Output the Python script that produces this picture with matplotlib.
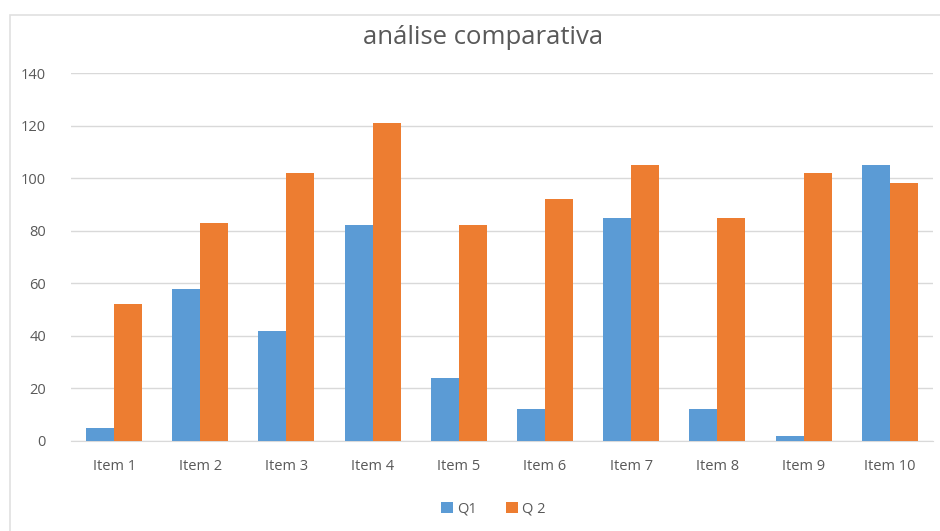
import numpy as np
import matplotlib.pyplot as plt
from matplotlib.patches import Rectangle

items = ['Item 1', 'Item 2', 'Item 3', 'Item 4', 'Item 5',
         'Item 6', 'Item 7', 'Item 8', 'Item 9', 'Item 10']
q1 = [5, 58, 42, 82, 24, 12, 85, 12, 2, 105]
q2 = [52, 83, 102, 121, 82, 92, 105, 85, 102, 98]

plt.rcParams['font.family'] = ['Open Sans', 'DejaVu Sans']
text_col = '#595959'

fig = plt.figure(figsize=(9.4, 5.31), dpi=100)
ax = fig.add_axes([0.0755, 0.1695, 0.917, 0.693])

x = np.arange(len(items))
w = 0.325
ax.bar(x - w / 2, q1, w, color='#5B9BD5', label='Q1', zorder=3)
ax.bar(x + w / 2, q2, w, color='#ED7D31', label='Q 2', zorder=3)

ax.set_xlim(-0.5, len(items) - 0.5)
ax.set_ylim(0, 140)
ax.set_yticks(range(0, 141, 20))
ax.set_xticks(x)
ax.set_xticklabels(items)
ax.yaxis.grid(True, color='#D9D9D9', linewidth=1, zorder=0)
ax.tick_params(axis='both', length=0, labelsize=10.5, colors=text_col)
ax.tick_params(axis='y', pad=18)
ax.tick_params(axis='x', pad=13)
for s in ['top', 'right', 'left']:
    ax.spines[s].set_visible(False)
ax.spines['bottom'].set_color('#D9D9D9')

fig.text(0.514, 0.930, 'análise comparativa', ha='center', va='center',
         fontsize=18.5, color=text_col)

fig.legend(loc='center', bbox_to_anchor=(0.525, 0.042), ncol=2, frameon=False,
           fontsize=10.5, labelcolor=text_col, handlelength=0.8, handleheight=0.8,
           columnspacing=2.0, handletextpad=0.3)

# light frame round the chart area (top and left edges visible)
fig.patches.append(Rectangle((0.0106, -0.01), 1.0, 0.982, transform=fig.transFigure,
                             fill=False, edgecolor='#E0E0E0', linewidth=1.2))

fig.savefig('out.png', dpi=100)
